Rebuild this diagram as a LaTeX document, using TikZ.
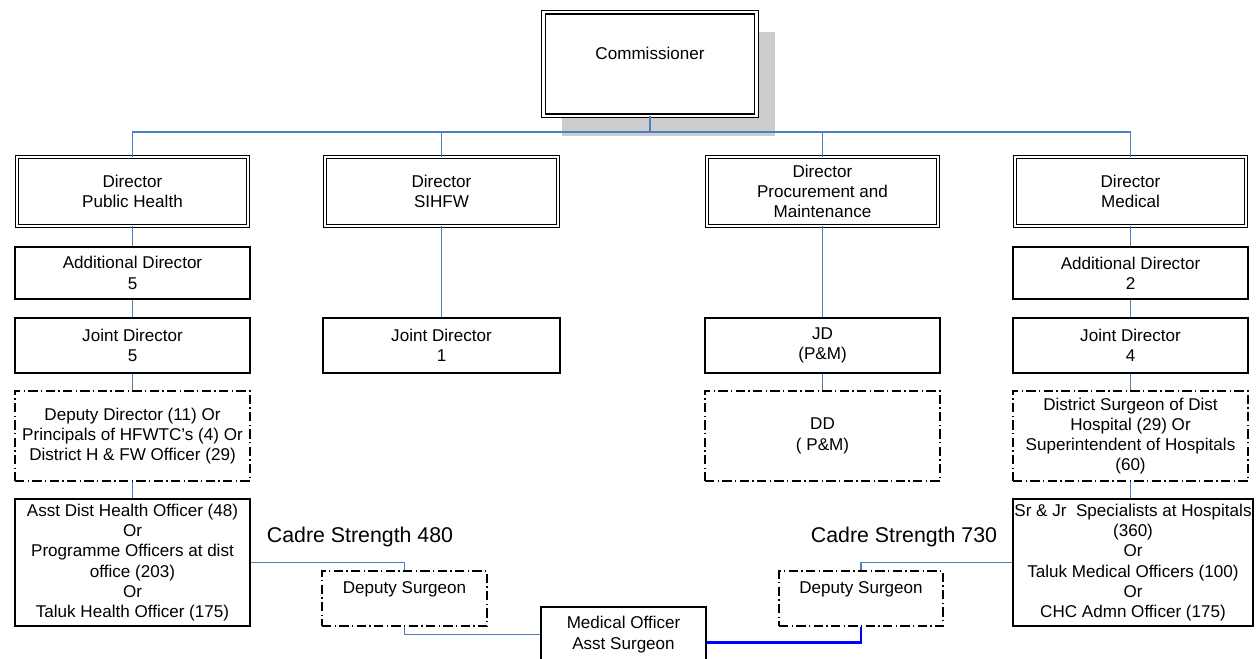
\documentclass[tikz,border=0pt]{standalone}
\usepackage{fontspec}
\setmainfont{Liberation Sans}
\usetikzlibrary{shadows}
\definecolor{linkblue}{RGB}{74,126,193}

\begin{document}
\begin{tikzpicture}[x=0.75pt, y=-0.75pt,
		every node/.style={font=\fontsize{12.8}{15.2}\selectfont, align=center},
		block/.style={draw, line width=0.9pt, minimum width=176.25pt, inner sep=2pt},
		dblock/.style={block, double, line width=0.8pt, double distance=1.8pt, minimum width=173pt, minimum height=51.5pt},
		dashblock/.style={block, dash pattern=on 7pt off 2.5pt on 1pt off 2.5pt},
		conn/.style={draw=linkblue, line width=1pt},
		moline/.style={draw=blue, line width=1.6pt},
		cadre/.style={font=\fontsize{16}{19}\selectfont},
	]
		\useasboundingbox (0,0) rectangle (1260,659);

		\node[dblock, minimum width=160pt, minimum height=77.6pt, fill=white, text depth=16.5pt,
			drop shadow={shadow xshift=14pt, shadow yshift=-15pt, fill=black!20, opacity=1}] (com) at (650,64) {Commissioner};

		\node[dblock] (dph) at (132.5,191.5) {Director\\Public Health};
		\node[dblock, minimum width=174.5pt] (dsi) at (441.5,191.5) {Director\\SIHFW};
		\node[dblock] (dpm) at (822.5,191.5) {Director\\Procurement and\\Maintenance};
		\node[dblock] (dmd) at (1130.5,191.5) {Director\\Medical};

		\node[block, minimum height=39pt] (adph) at (132.5,273) {Additional Director\\5};
		\node[block, minimum height=41.25pt] (jdph) at (132.5,345.5) {Joint Director\\5};
		\node[dashblock, minimum height=67.5pt] (ddph) at (132.5,436) {Deputy Director (11) Or\\Principals of HFWTC’s (4) Or\\District H \& FW Officer (29)};
		\node[block, minimum height=95.25pt] (adho) at (132.5,562.5) {Asst Dist Health Officer (48)\\Or\\Programme Officers at dist\\office (203)\\Or\\Taluk Health Officer (175)};

		\node[block, minimum width=177.75pt, minimum height=41.25pt] (jdsi) at (441.5,345.5) {Joint Director\\1};

		\node[block, minimum height=41.25pt] (jdpm) at (822.5,345.5) {JD\\(P\&M)};
		\node[dashblock, minimum height=67.5pt] (ddpm) at (822.5,436) {DD\\( P\&M)};

		\node[block, minimum height=39pt] (admd) at (1130.5,273) {Additional Director\\2};
		\node[block, minimum height=41.25pt] (jdmd) at (1130.5,345.5) {Joint Director\\4};
		\node[dashblock, minimum height=67.5pt] (dsmd) at (1130.5,436) {District Surgeon of Dist\\Hospital (29) Or\\Superintendent of Hospitals\\(60)};
		\node[block, minimum width=180pt, minimum height=95.25pt, inner sep=0.5pt] (srmd) at (1133,562.5) {Sr \& Jr\ \ Specialists at Hospitals\\(360)\\Or\\Taluk Medical Officers (100)\\Or\\CHC Admn Officer (175)};

		\node[dashblock, minimum width=123.75pt, minimum height=41.25pt, text depth=15.8pt] (dsl) at (404.5,598.5) {Deputy Surgeon};
		\node[dashblock, minimum width=123pt, minimum height=41.25pt, text depth=15.8pt] (dsr) at (861,598.5) {Deputy Surgeon};
		\node[block, minimum width=123.75pt, minimum height=41.25pt] (mo) at (623.5,634.5) {Medical Officer\\Asst Surgeon};

		\node[cadre] (cs480) at (360,537) {Cadre Strength 480};
		\node[cadre] (cs730) at (904,537) {Cadre Strength 730};

		\coordinate (bus) at (650,132);
		\draw[conn] (com.south) -- (bus);
		\draw[conn] (dph.north) |- (bus) -| (dmd.north);
		\draw[conn] (dsi.north) -- (dsi.north|-bus);
		\draw[conn] (dpm.north) -- (dpm.north|-bus);

		\draw[conn] (dph) -- (adph);
		\draw[conn] (adph) -- (jdph);
		\draw[conn] (jdph) -- (ddph);
		\draw[conn] (ddph) -- (adho);
		\draw[conn] (dsi) -- (jdsi);
		\draw[conn] (dpm) -- (jdpm);
		\draw[conn] (jdpm) -- (ddpm);
		\draw[conn] (dmd) -- (admd);
		\draw[conn] (admd) -- (jdmd);
		\draw[conn] (jdmd) -- (dsmd);
		\draw[conn] (dsmd.south) -- (dsmd.south|-srmd.north);

		\draw[conn] (adho.east) -| (dsl.north);
		\draw[conn] (dsl.south) |- (mo.west);
		\draw[moline] ([yshift=-6pt]mo.east) -| (dsr.south);
		\draw[conn] (srmd.west) -| (dsr.north);
	\end{tikzpicture}
\end{document}
